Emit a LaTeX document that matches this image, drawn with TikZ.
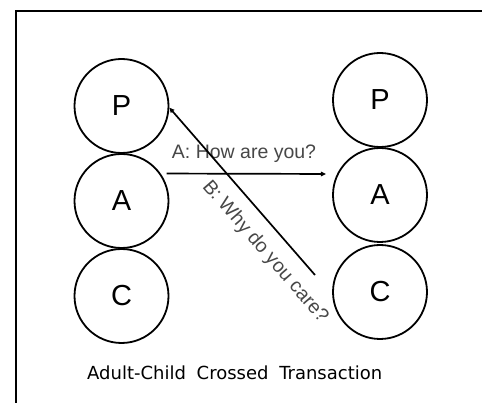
\documentclass[tikz,border=0pt]{standalone}
\usepackage{fontspec}
\setmainfont{Liberation Sans}
\newfontfamily\captionfont{DejaVu Sans}
\usetikzlibrary{arrows.meta}

\begin{document}
\begin{tikzpicture}[x=1pt,y=-1pt,
        egostate/.style={draw,circle,line width=1.8pt,minimum size=94pt,inner sep=0pt,
            font=\fontsize{29}{29}\selectfont},
        msg/.style={text=black!72,font=\fontsize{19.5}{19.5}\selectfont,inner sep=0pt},
        transaction/.style={line width=1.7pt,-{Triangle[length=5pt,width=4.5pt]}}]
        \useasboundingbox (0,0) rectangle (482,403);

        % Frame
        \draw[line width=2pt] (16,403) -- (16,11) -- (482,11);

        % Left ego states
        \node[egostate] (lP) at (121.5,106) {P};
        \node[egostate] (lA) at (121.5,201) {A};
        \node[egostate] (lC) at (121.5,296) {C};

        % Right ego states
        \node[egostate] (rP) at (380,100) {P};
        \node[egostate] (rA) at (380,195) {A};
        \node[egostate] (rC) at (380,292) {C};

        % Stimulus: adult to adult
        \draw[transaction,shorten <=6pt,shorten >=11pt] (lA.35) -- (rA.154);
        \node[msg,anchor=base] (howru) at (244,159) {A: How are you?};

        % Response: child to parent
        \coordinate (reply) at (315,275);
        \draw[transaction] (reply) -- (lP.358);
        \node[msg,rotate=-49] (whycare) at (265,252) {B: Why do you care?};

        % Caption
        \node[anchor=base west,inner sep=0pt,font=\captionfont\fontsize{18}{18}\selectfont] (caption)
            at (87,379) {Adult-Child\hspace{5pt} Crossed\hspace{5pt} Transaction};
    \end{tikzpicture}
\end{document}
